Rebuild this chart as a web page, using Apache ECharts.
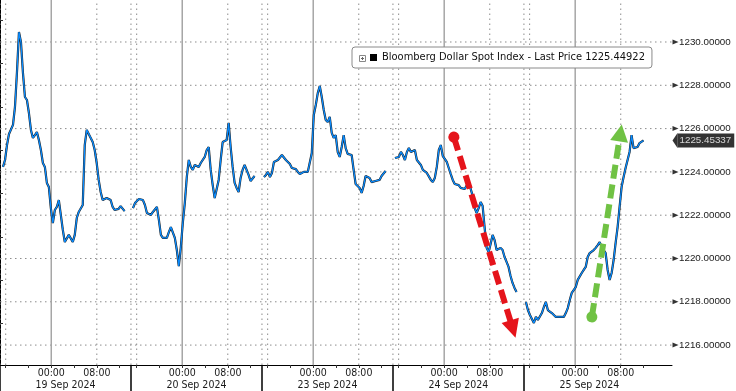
<!DOCTYPE html>
<html><head><meta charset="utf-8">
<script src="https://cdn.jsdelivr.net/npm/echarts@6/dist/echarts.min.js"></script>
<style>html,body{margin:0;padding:0;background:#fff;overflow:hidden}#c{width:736px;height:391px}</style>
</head><body><div id="c"></div>
<script>
// ---------------- data ----------------
const SERIES_NAME = 'Bloomberg Dollar Spot Index - Last Price 1225.44922';
const LAST_PRICE = 1225.45337;
const DAYS = ['19 Sep 2024', '20 Sep 2024', '23 Sep 2024', '24 Sep 2024', '25 Sep 2024'];
const SESSION_HOURS = 23;        // each session 15:00 -> 14:00
const SAMPLE_HOURS = 0.35;       // ~21 minute samples
const DAY_FIRST_SAMPLE = [0.53, 0.35, 0.35, 0.35, 0.35]; // hours after session open
const TIME_TICKS = [{ h: 9, label: '00:00' }, { h: 17, label: '08:00' }];
const MINOR_TICK_HOURS = [1, 5, 9, 13, 17, 21];
const Y_TICKS = [1216, 1218, 1220, 1222, 1224, 1226, 1228, 1230];
const Y_MINOR = [1215, 1217, 1219, 1221, 1223, 1225, 1227, 1229, 1231];
const Y_MIN = 1215.08, Y_MAX = 1231.94, X_MAX = 118;

const DAY1 = [1224.23,1224.55,1225.24,1225.75,1225.80,1226.17,1227.00,1228.61,1230.46,1230.00,
  1228.57,1227.46,1227.32,1226.72,1225.94,1225.57,1225.70,1225.84,1225.47,1225.01,
  1224.41,1224.23,1223.49,1223.30,1222.33,1221.64,1222.24,1222.38,1222.70,1222.01,
  1221.32,1220.76,1220.67,1221.09,1221.18,1220.76,1221.09,1221.87,1222.15,1222.10,
  1222.47,1225.24,1225.94,1226.03,1225.57,1225.38,1225.01,1224.41,1223.63,1223.07,
  1222.70,1222.70,1222.79,1222.79,1222.70,1222.38,1222.24,1222.15,1222.29,1222.42,
  1222.38,1222.19];
const DAY2 = [1222.33,1222.56,1222.61,1222.75,1222.84,1222.70,1222.47,1222.10,1222.15,1222.01,
  1222.15,1222.10,1222.38,1221.78,1221.09,1220.95,1221.04,1220.95,1221.22,1221.45,
  1221.36,1220.95,1220.39,1219.65,1220.53,1221.64,1222.56,1223.76,1224.55,1224.23,
  1224.09,1224.32,1224.41,1224.23,1224.41,1224.46,1224.69,1225.01,1225.15,1224.09,
  1223.39,1222.79,1222.79,1223.63,1224.55,1225.38,1225.47,1225.47,1226.26,1225.15,
  1224.23,1223.49,1223.26,1223.07,1223.72,1224.09,1224.32,1224.27,1223.86,1223.58,
  1223.58,1223.81];
const DAY3 = [1223.76,1223.86,1224.00,1223.76,1223.95,1224.46,1224.55,1224.55,1224.64,1224.78,
  1224.69,1224.55,1224.50,1224.36,1224.18,1224.13,1224.13,1224.00,1223.90,1223.95,
  1224.00,1224.04,1224.00,1224.09,1224.87,1226.63,1227.09,1227.64,1227.97,1227.46,
  1226.86,1226.40,1226.30,1226.54,1225.80,1225.57,1225.70,1224.92,1224.69,1225.15,
  1225.70,1225.10,1224.83,1224.92,1224.78,1224.09,1223.44,1223.44,1223.26,1223.03,
  1223.35,1223.81,1223.90,1223.72,1223.53,1223.58,1223.58,1223.49,1223.63,1223.81,
  1223.90,1224.04];
const DAY4 = [1224.64,1224.60,1224.69,1224.92,1224.78,1224.55,1224.92,1225.10,1224.92,1224.87,
  1225.01,1224.55,1224.64,1224.32,1224.09,1224.18,1223.95,1223.86,1223.63,1223.53,
  1223.72,1224.23,1225.01,1225.24,1224.73,1224.60,1224.46,1224.18,1223.90,1223.63,
  1223.44,1223.44,1223.39,1223.26,1223.30,1223.21,1223.26,1223.53,1223.44,1222.89,
  1222.33,1222.10,1222.33,1222.61,1222.42,1221.41,1220.49,1220.30,1220.67,1221.09,
  1220.85,1220.39,1220.35,1220.49,1220.39,1220.07,1219.84,1219.61,1219.19,1218.87,
  1218.64,1218.45];
const DAY5 = [1217.99,1217.62,1217.39,1217.48,1217.02,1217.30,1217.16,1217.25,1217.48,1217.76,
  1217.99,1217.62,1217.71,1217.48,1217.53,1217.30,1217.39,1217.30,1217.39,1217.30,
  1217.48,1217.71,1218.08,1218.41,1218.45,1218.68,1219.01,1219.10,1219.33,1219.47,
  1219.61,1220.07,1220.25,1220.25,1220.39,1220.49,1220.62,1220.76,1220.53,1220.62,
  1220.25,1219.47,1219.01,1219.33,1219.93,1220.72,1221.45,1222.38,1223.30,1223.76,
  1224.18,1224.55,1224.92,1225.70,1225.10,1225.01,1225.15,1225.33,1225.38,1225.45337];
const DAY_VALUES = [DAY1, DAY2, DAY3, DAY4, DAY5];

// annotation arrows: [startTime, startValue, endTime, endValue]
const RED_ARROW = [79.70, 1225.61, 90.06, 1216.74];
const GREEN_ARROW = [103.93, 1217.30, 108.94, 1225.80];

// ---------------- build ----------------
const FONT = 'Tahoma, "DejaVu Sans Condensed", "Liberation Sans", sans-serif';
const NUM_FONT = '"Liberation Sans", Arial, sans-serif';
const priceData = [];
DAY_VALUES.forEach((arr, k) => {
  const t0 = k * SESSION_HOURS + DAY_FIRST_SAMPLE[k];
  arr.forEach((v, i) => priceData.push([t0 + i * SAMPLE_HOURS, v]));
  priceData.push([t0 + arr.length * SAMPLE_HOURS, null]);
});

function vLines(offsetHours) {
  const d = [];
  DAYS.forEach((_, k) => {
    const t = k * SESSION_HOURS + offsetHours;
    d.push([t, Y_MIN], [t, Y_MAX], [t, null]);
  });
  return d;
}
const hLineData = [];
Y_TICKS.forEach(v => hLineData.push([0, v], [X_MAX, v], [X_MAX, null]));

const gridSeries = (data, style) => ({
  type: 'line', data, symbol: 'none', silent: true, z: 1, animation: false,
  connectNulls: false, lineStyle: style
});
const DOT = { color: '#8c8c8c', width: 1, type: [1.5, 3.5] };

const timeLabelValues = [], minorTickValues = [], dayCenters = [], dayBounds = [];
DAYS.forEach((_, k) => {
  TIME_TICKS.forEach(tt => timeLabelValues.push(k * SESSION_HOURS + tt.h));
  MINOR_TICK_HOURS.forEach(h => minorTickValues.push(k * SESSION_HOURS + h));
  dayCenters.push(k * SESSION_HOURS + SESSION_HOURS / 2);
  dayBounds.push(k * SESSION_HOURS);
});

const chart = echarts.init(document.getElementById('c'), null, { renderer: 'canvas' });
chart.setOption({
  animation: false,
  backgroundColor: '#fff',
  textStyle: { fontFamily: FONT },
  grid: { left: 0, right: 64, top: 0, bottom: 26, containLabel: false, outerBoundsMode: 'none' },
  legend: {
    left: 352, top: 47, selectedMode: false,
    backgroundColor: '#fff', borderColor: '#8a8a8a', borderWidth: 1, borderRadius: 3,
    padding: [5, 7, 5, 18], itemWidth: 7, itemHeight: 7, itemGap: 5,
    textStyle: { fontFamily: FONT, fontSize: 11, color: '#111' },
    data: [{ name: SERIES_NAME, icon: 'rect', itemStyle: { color: '#000' } }]
  },
  graphic: [
    { type: 'rect', shape: { x: 359.5, y: 55.5, width: 6, height: 6 }, style: { fill: '#fff', stroke: '#888', lineWidth: 1 }, z: 100 },
    { type: 'line', shape: { x1: 361, y1: 58.5, x2: 364, y2: 58.5 }, style: { stroke: '#666', lineWidth: 1 }, z: 101 },
    { type: 'line', shape: { x1: 362.5, y1: 57, x2: 362.5, y2: 60 }, style: { stroke: '#666', lineWidth: 1 }, z: 101 }
  ],
  xAxis: [
    {
      type: 'value', min: 0, max: X_MAX, position: 'bottom',
      axisLine: { show: true, lineStyle: { color: '#000', width: 1 } },
      axisTick: { show: true, customValues: minorTickValues, length: 3, lineStyle: { color: '#333' } },
      axisLabel: {
        customValues: timeLabelValues, margin: 3, fontSize: 10.5, color: '#1a1a1a', fontFamily: FONT,
        formatter: v => {
          const h = Math.round(v) % SESSION_HOURS;
          const f = TIME_TICKS.find(t => t.h === h);
          return f ? f.label : '';
        }
      },
      splitLine: { show: false }
    },
    {
      type: 'value', min: 0, max: X_MAX, position: 'bottom',
      axisLine: { show: false },
      axisTick: { show: true, customValues: dayBounds, length: 26, lineStyle: { color: '#000', width: 1.5 } },
      axisLabel: {
        customValues: dayCenters, margin: 15, fontSize: 10.5, color: '#1a1a1a', fontFamily: FONT,
        formatter: v => DAYS[Math.floor(v / SESSION_HOURS)]
      },
      splitLine: { show: false }
    }
  ],
  yAxis: [
    {
      type: 'value', min: Y_MIN, max: Y_MAX, position: 'right',
      axisLine: { show: true, lineStyle: { color: '#000', width: 1 } },
      axisTick: { show: false },
      axisLabel: {
        customValues: Y_TICKS, margin: 7, fontSize: 9.8, color: '#1a1a1a', fontFamily: NUM_FONT,
        formatter: v => v.toFixed(5)
      },
      splitLine: { show: false }
    },
    {
      type: 'value', min: Y_MIN, max: Y_MAX, position: 'right',
      axisLine: { show: false },
      axisTick: { show: true, customValues: Y_MINOR, length: 3, lineStyle: { color: '#333' } },
      axisLabel: { show: false },
      splitLine: { show: false }
    }
  ],
  series: [
    gridSeries(hLineData, DOT),
    gridSeries(vLines(0), DOT),
    gridSeries(vLines(1), DOT),
    gridSeries(vLines(17), DOT),
    gridSeries(vLines(9), { color: '#a6a6a6', width: 1.5, type: 'solid' }),
    {
      name: SERIES_NAME, type: 'line', data: priceData, symbol: 'none', z: 3,
      connectNulls: false, silent: true, color: '#000',
      lineStyle: { color: '#1b1b1b', width: 2.2 }
    },
    {
      name: 'close', type: 'line', data: priceData, symbol: 'none', z: 4,
      connectNulls: false, silent: true,
      lineStyle: { color: '#0a8cff', width: 1.3 },
      markLine: {
        silent: true, animation: false,
        label: { show: false },
        emphasis: { disabled: true },
        data: [
          [
            { coord: [RED_ARROW[0], RED_ARROW[1]], symbol: 'circle', symbolSize: 11 },
            { coord: [RED_ARROW[2], RED_ARROW[3]], symbol: 'triangle', symbolSize: [18, 18],
              lineStyle: { color: '#e5141b', width: 6, type: [14, 6] }, itemStyle: { color: '#e5141b' } }
          ],
          [
            { coord: [GREEN_ARROW[0], GREEN_ARROW[1]], symbol: 'circle', symbolSize: 11 },
            { coord: [GREEN_ARROW[2], GREEN_ARROW[3]], symbol: 'triangle', symbolSize: [18, 17],
              lineStyle: { color: '#70c244', width: 6, type: [14, 6] }, itemStyle: { color: '#70c244' } }
          ]
        ]
      }
    },
    {
      type: 'scatter', data: Y_TICKS.map(v => [X_MAX, v]), symbol: 'triangle',
      symbolRotate: -90, symbolSize: [5, 6], symbolOffset: [3.5, 0], clip: false, silent: true, z: 6,
      itemStyle: { color: '#000' }
    },
    {
      type: 'scatter', data: [[X_MAX, LAST_PRICE]], symbol: 'triangle',
      symbolRotate: 90, symbolSize: [15, 5], symbolOffset: [3, 0], clip: false, silent: true, z: 7,
      itemStyle: { color: '#000' },
      label: {
        show: true, position: 'right', distance: 0, formatter: () => LAST_PRICE.toFixed(5),
        color: '#fff', backgroundColor: '#000', padding: [2, 3, 2, 2], fontSize: 9.8, fontFamily: NUM_FONT
      }
    }
  ]
});
</script></body></html>
